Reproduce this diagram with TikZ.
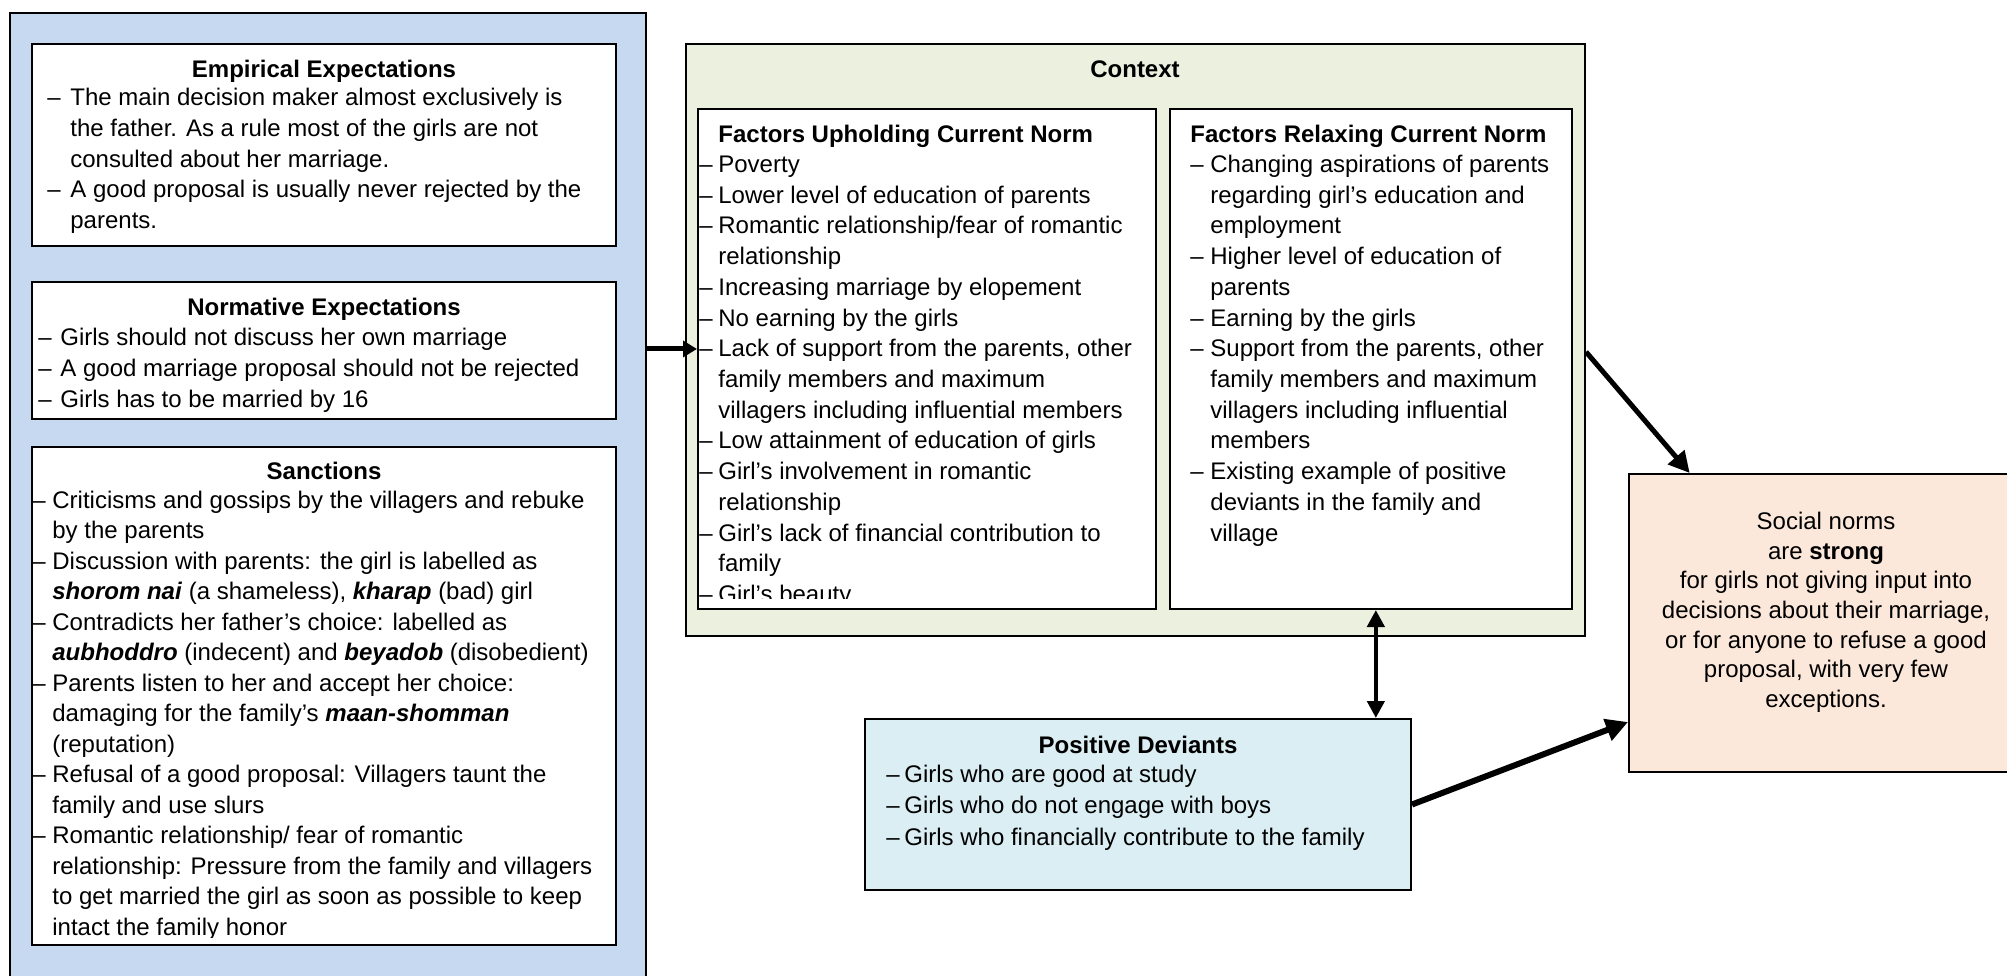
\documentclass[tikz,border=0pt]{standalone}
\usepackage{fontspec}
\setmainfont{Liberation Sans}
\usetikzlibrary{arrows.meta,calc,fit}

\definecolor{panelblue}{RGB}{198,217,241}
\definecolor{panelgreen}{RGB}{235,241,222}
\definecolor{panelcyan}{RGB}{218,238,243}
\definecolor{panelpeach}{RGB}{252,232,218}

% hanging indent of the dashed lists (set globally: every line is its own group)
\newlength\dw
\newcommand\setdw[1]{\global\dw=#1\relax}
\newcommand\Dl[1]{\makebox[\dw][l]{–}#1}
\newcommand\Cl[1]{\hspace*{\dw}#1}
\newcommand\bi[1]{\textbf{\textit{#1}}}
% fixed height above the first baseline, so that the node top sits 10pt over it
\newcommand\topset{\rule{0pt}{10pt}}

\tikzset{
  frame/.style={draw=black, line width=1pt, inner sep=0pt},
  txt/.style={anchor=north west, yshift=10pt, align=left, inner sep=0pt, font=\fontsize{12}{15.4}\selectfont},
  ttl/.style={anchor=base, inner sep=0pt, font=\fontsize{12}{15.4}\selectfont\bfseries},
  flow/.style={line width=2.5pt, -{Triangle[length=10.5pt,width=10.5pt]}},
}

\begin{document}
\begin{tikzpicture}[x=0.5pt,y=-0.5pt]
\clip (0,0) rectangle (2007,975);
\fill[white] (0,0) rectangle (2007,975);

% left panel: expectations and sanctions
\node[frame, fill=panelblue, fit={(10,13) (646,1000)}] (left) {};
\node[frame, fill=white, fit={(32,44) (616,246)}] (emp) {};
\node[frame, fill=white, fit={(32,282) (616,419)}] (norm) {};
\node[frame, fill=white, fit={(32,447) (616,945)}] (sanc) {};

\node[ttl] (empT) at (324,77) {Empirical Expectations};
\node[txt] (empL) at (47,105) {\setdw{11.5pt}%
\topset\Dl{The main decision maker almost exclusively is}\\
\Cl{the father. As a rule most of the girls are not}\\
\Cl{consulted about her marriage.}\\
\Dl{A good proposal is usually never rejected by the}\\
\Cl{parents.}};

\node[ttl] (normT) at (324,315) {Normative Expectations};
\begin{scope}
\clip ($(norm.south west)+(0,-4)$) rectangle (norm.north east);
\node[txt] (normL) at (38,345) {\setdw{11pt}%
\topset\Dl{Girls should not discuss her own marriage}\\
\Dl{A good marriage proposal should not be rejected}\\
\Dl{Girls has to be married by 16}};
\end{scope}

\node[ttl] (sancT) at (324,479) {Sanctions};
\begin{scope}
\clip ($(sanc.south west)+(0,-9)$) rectangle (sanc.north east);
\node[txt, font=\fontsize{12}{15.25}\selectfont] (sancL) at (32,508) {\setdw{10pt}%
\topset\Dl{Criticisms and gossips by the villagers and rebuke}\\
\Cl{by the parents}\\
\Dl{Discussion with parents: the girl is labelled as}\\
\Cl{\bi{shorom nai} (a shameless), \bi{kharap} (bad) girl}\\
\Dl{Contradicts her father’s choice: labelled as}\\
\Cl{\bi{aubhoddro} (indecent) and \bi{beyadob} (disobedient)}\\
\Dl{Parents listen to her and accept her choice:}\\
\Cl{damaging for the family’s \bi{maan-shomman}}\\
\Cl{(reputation)}\\
\Dl{Refusal of a good proposal: Villagers taunt the}\\
\Cl{family and use slurs}\\
\Dl{Romantic relationship/ fear of romantic}\\
\Cl{relationship: Pressure from the family and villagers}\\
\Cl{to get married the girl as soon as possible to keep}\\
\Cl{intact the family honor}};
\end{scope}

% context panel
\node[frame, fill=panelgreen, fit={(686,44) (1585,636)}] (ctx) {};
\node[frame, fill=white, fit={(698,109) (1156,609)}] (uph) {};
\node[frame, fill=white, fit={(1170,109) (1572,609)}] (rel) {};
\node[ttl] (ctxT) at (1135,77) {Context};

\node[ttl, anchor=base west] (uphT) at (718,142) {Factors Upholding Current Norm};
\begin{scope}
\clip ($(uph.south west)+(0,-12)$) rectangle (uph.north east);
\node[txt, font=\fontsize{12}{15.36}\selectfont] (uphL) at (699,172) {\setdw{9.5pt}%
\topset\Dl{Poverty}\\
\Dl{Lower level of education of parents}\\
\Dl{Romantic relationship/fear of romantic}\\
\Cl{relationship}\\
\Dl{Increasing marriage by elopement}\\
\Dl{No earning by the girls}\\
\Dl{Lack of support from the parents, other}\\
\Cl{family members and maximum}\\
\Cl{villagers including influential members}\\
\Dl{Low attainment of education of girls}\\
\Dl{Girl’s involvement in romantic}\\
\Cl{relationship}\\
\Dl{Girl’s lack of financial contribution to}\\
\Cl{family}\\
\Dl{Girl’s beauty}};
\end{scope}

\node[ttl, anchor=base west] (relT) at (1190,142) {Factors Relaxing Current Norm};
\node[txt, font=\fontsize{12}{15.36}\selectfont] (relL) at (1190,172) {\setdw{10pt}%
\topset\Dl{Changing aspirations of parents}\\
\Cl{regarding girl’s education and}\\
\Cl{employment}\\
\Dl{Higher level of education of}\\
\Cl{parents}\\
\Dl{Earning by the girls}\\
\Dl{Support from the parents, other}\\
\Cl{family members and maximum}\\
\Cl{villagers including influential}\\
\Cl{members}\\
\Dl{Existing example of positive}\\
\Cl{deviants in the family and}\\
\Cl{village}};

% positive deviants
\node[frame, fill=panelcyan, fit={(865,719) (1411,890)}] (pd) {};
\node[ttl] (pdT) at (1138,753) {Positive Deviants};
\node[txt, font=\fontsize{12}{15.75}\selectfont] (pdL) at (886,782) {\setdw{9pt}%
\topset\Dl{Girls who are good at study}\\
\Dl{Girls who do not engage with boys}\\
\Dl{Girls who financially contribute to the family}};

% outcome
\node[frame, fill=panelpeach, fit={(1629,474) (2025,772)}] (sn) {};
\node[anchor=north, yshift=10pt, align=center, inner sep=0pt, font=\fontsize{12}{14.85}\selectfont] (snL) at (1826,529) {\topset Social norms\\
are \textbf{strong}\\
for girls not giving input into\\
decisions about their marriage,\\
or for anyone to refuse a good\\
proposal, with very few\\
exceptions.};

% connectors
\coordinate (a1s) at ($(uph.north west)!0.48!(uph.south west)$);
\draw[flow, -{Triangle[length=7pt,width=8pt]}] (left.east |- a1s) -- (a1s);
\draw[flow] ($(ctx.north east)!0.52!(ctx.south east)$) -- ($(sn.north west)!0.155!(sn.north east)$);
\coordinate (a3s) at ($(rel.south west)!0.512!(rel.south east)$);
\draw[line width=2.2pt, {Triangle[length=8.5pt,width=8.5pt]}-{Triangle[length=8.5pt,width=8.5pt]}] (a3s) -- (a3s |- pd.north);
\draw[flow, line width=3pt, -{Triangle[length=11pt,width=11pt]}] (pd.east) -- ($(sn.north west)!0.83!(sn.south west)$);
\end{tikzpicture}
\end{document}
